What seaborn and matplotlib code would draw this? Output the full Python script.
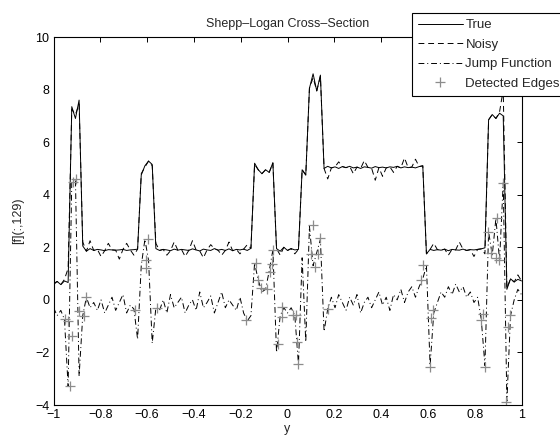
import numpy as np
import pandas as pd
import matplotlib
matplotlib.use("Agg")
import matplotlib.pyplot as plt
import seaborn as sns

# ---- data ----
x_grid = np.linspace(-1, 1, 129)

true_vals = [
    0.62, 0.70, 0.58, 0.72, 0.66, 7.35, 6.90, 7.60, 2.05, 1.85,
    1.95, 1.88, 1.92, 1.90, 1.87, 1.91, 1.90, 1.89, 1.90, 1.92,
    1.88, 1.90, 1.91, 1.93, 4.75, 5.10, 5.28, 5.15, 1.95, 1.88,
    1.92, 1.90, 1.87, 1.93, 1.89, 1.92, 1.90, 1.88, 1.94, 1.90,
    1.86, 1.93, 1.90, 1.88, 1.95, 1.89, 1.92, 1.88, 1.94, 1.87,
    1.92, 1.90, 1.93, 1.88, 1.96, 5.20, 4.95, 4.80, 4.95, 4.85,
    5.22, 1.95, 1.85, 2.00, 1.88, 1.95, 1.90, 1.92, 4.95, 4.75,
    8.05, 8.60, 7.95, 8.55, 5.00, 5.08, 5.02, 5.06, 5.00, 5.07,
    5.03, 5.08, 5.02, 5.05, 5.00, 5.06, 5.04, 5.01, 5.07, 5.03,
    5.05, 5.02, 5.06, 5.04, 5.08, 5.02, 5.06, 5.03, 5.05, 5.02,
    5.07, 5.10, 1.75, 1.92, 1.88, 1.91, 1.89, 1.93, 1.87, 1.92,
    1.90, 1.89, 1.93, 1.88, 1.91, 1.90, 1.92, 1.94, 1.98, 6.85,
    7.05, 6.90, 7.10, 7.00, 0.40, 0.80, 0.68, 0.78, 0.72,
]

noisy_vals = [
    0.58, 0.70, 0.58, 0.78, 1.20, 7.25, 7.05, 7.45, 2.20, 1.85,
    2.25, 1.88, 1.92, 1.65, 1.87, 2.15, 1.90, 1.89, 1.55, 1.92,
    2.15, 1.90, 1.70, 1.93, 4.80, 5.05, 5.28, 5.10, 2.15, 1.88,
    1.92, 1.70, 1.87, 2.20, 1.89, 1.92, 1.65, 1.88, 2.25, 1.90,
    1.86, 1.60, 1.90, 2.10, 1.95, 1.89, 1.70, 1.88, 2.20, 1.87,
    1.92, 1.75, 1.93, 2.10, 1.96, 5.15, 4.95, 4.80, 4.95, 4.85,
    5.20, 1.95, 1.70, 2.00, 1.88, 1.95, 1.75, 1.92, 4.95, 4.75,
    8.05, 8.45, 7.95, 8.50, 5.00, 4.60, 5.02, 5.06, 5.25, 5.07,
    5.03, 5.08, 4.80, 5.05, 5.00, 5.30, 5.04, 5.01, 4.55, 5.03,
    4.70, 5.02, 5.06, 4.85, 5.08, 5.02, 5.40, 5.03, 5.05, 5.35,
    5.07, 5.10, 1.75, 1.92, 2.15, 1.91, 1.89, 1.93, 1.70, 1.92,
    1.90, 2.20, 1.93, 1.88, 1.91, 1.65, 1.92, 1.94, 1.75, 6.85,
    7.05, 6.90, 7.15, 8.00, 0.45, 0.80, 0.68, 0.95, 0.72,
]

jump_vals = [
    -0.30, -0.60, -0.40, -0.75, -3.30, 4.50, 4.60, -2.90, -0.60, 0.10,
    -0.30, -0.10, -0.40, 0.00, -0.50, -0.20, 0.10, -0.40, -0.10, 0.20,
    -0.50, -0.20, -0.35, -1.50, 1.30, 2.30, 1.50, -1.65, -0.30, -0.40,
    0.00, -0.50, 0.20, -0.30, -0.10, 0.10, -0.50, -0.20, 0.00, -0.40,
    0.30, -0.30, -0.10, 0.15, -0.50, -0.10, 0.30, -0.30, 0.00, -0.20,
    -0.40, 0.10, -0.50, -0.80, -0.60, 1.40, 0.75, 0.30, 0.40, 1.10,
    1.90, -2.00, -0.60, -0.30, -0.50, -0.30, -0.60, -2.45, 1.60, -1.60,
    2.80, 1.30, 1.80, 2.30, -1.20, -0.35, 0.10, -0.30, 0.20, -0.10,
    -0.40, 0.10, -0.20, 0.20, -0.50, -0.10, 0.10, -0.30, 0.00, 0.30,
    -0.20, 0.10, -0.40, 0.20, 0.00, 0.40, -0.10, 0.30, 0.50, 0.10,
    0.50, 0.80, 1.30, -2.50, -0.50, -0.10, 0.30, 0.10, 0.50, 0.20,
    0.60, 0.30, 0.50, 0.10, 0.30, -0.10, 0.10, -0.75, -2.50, 2.60,
    1.70, 3.10, 1.50, 4.45, -3.85, -0.60, 0.00, 0.40, 0.20,
]

edge_x = [
    -0.952, -0.940, -0.930, -0.923, -0.915, -0.902, -0.892, -0.870, -0.863,
    -0.653, -0.605, -0.605, -0.595, -0.556,
    -0.177, -0.134, -0.124, -0.115, -0.087, -0.073, -0.068, -0.063, -0.041,
    -0.024, -0.024, 0.023, 0.037, 0.040, 0.044, 0.101, 0.108, 0.118, 0.130,
    0.141, 0.172,
    0.571, 0.578, 0.607, 0.614, 0.621,
    0.828, 0.835, 0.842, 0.855, 0.869, 0.890, 0.897, 0.905, 0.919, 0.932,
    0.941, 0.949,
]
edge_y = [
    -0.74, -0.80, -3.28, -1.38, 4.48, 4.60, -0.43, -0.62, 0.12,
    -0.39, 1.51, 1.23, 2.30, -0.32,
    -0.77, 1.39, 0.75, 0.47, 0.40, 1.07, 1.35, 1.89, -1.68,
    -0.26, -0.67, -0.58, -0.58, -1.59, -2.44, 1.76, 2.84, 1.26, 1.76,
    2.34, -0.36,
    0.75, 1.32, -2.54, -0.69, -0.39,
    -0.77, -0.52, -2.54, 2.59, 1.77, 1.58, 3.10, 1.51, 4.45, -3.87,
    -1.02, -0.58,
]

x_ticks = [-1, -0.8, -0.6, -0.4, -0.2, 0, 0.2, 0.4, 0.6, 0.8, 1]
x_tick_labels = ["\u22121", "\u22120.8", "\u22120.6", "\u22120.4", "\u22120.2",
                 "0", "0.2", "0.4", "0.6", "0.8", "1"]
y_ticks = [-4, -2, 0, 2, 4, 6, 8, 10]
y_tick_labels = ["\u22124", "\u22122", "0", "2", "4", "6", "8", "10"]

# ---- style ----
sns.set_style("white")
plt.rcParams["font.family"] = ["Liberation Sans", "DejaVu Sans"]
plt.rcParams["font.size"] = 9

df = pd.DataFrame({"y": x_grid, "True": true_vals, "Noisy": noisy_vals,
                   "Jump": jump_vals})
edges = pd.DataFrame({"y": edge_x, "v": edge_y})

fig = plt.figure(figsize=(5.6, 4.43), dpi=100)
ax = fig.add_axes([53.5 / 560, 38 / 443, 468 / 560, 368 / 443])

lw = 0.7
sns.lineplot(data=df, x="y", y="True", ax=ax, color="black", lw=lw,
             estimator=None, sort=False, label="True")
sns.lineplot(data=df, x="y", y="Noisy", ax=ax, color="black", lw=lw,
             estimator=None, sort=False, label="Noisy", linestyle=(0, (6, 4)))
sns.lineplot(data=df, x="y", y="Jump", ax=ax, color="black", lw=lw,
             estimator=None, sort=False, label="Jump Function",
             linestyle=(0, (6, 3, 1, 3)))
ax.plot(edges["y"], edges["v"], linestyle="none", marker="+",
        color="#8c8c8c", markersize=7, markeredgewidth=0.9,
        label="Detected Edges")

ax.set_xlim(-1, 1)
ax.set_ylim(-4, 10)
ax.set_xticks(x_ticks)
ax.set_xticklabels(x_tick_labels)
ax.set_yticks(y_ticks)
ax.set_yticklabels(y_tick_labels)
ax.tick_params(direction="in", length=3.5, width=0.7, top=True, right=True,
               labelsize=9, pad=3, colors="black")
for s in ax.spines.values():
    s.set_visible(True)
    s.set_color("black")
    s.set_linewidth(0.8)

ax.set_xlabel("y", fontsize=9, labelpad=1)
ax.set_ylabel("[f](:,129)", fontsize=9, labelpad=8)
ax.set_title("Shepp\u2013Logan Cross\u2013Section", fontsize=9, pad=7)

leg = ax.legend(loc="upper left", bbox_to_anchor=(412 / 560, 1 - 13 / 443),
                bbox_transform=fig.transFigure, frameon=True, fancybox=False,
                shadow=False, framealpha=1, edgecolor="black",
                fontsize=9.5, handlelength=3.4, handletextpad=0.2,
                labelspacing=0.55, borderpad=0.45, borderaxespad=0)
leg.get_frame().set_linewidth(0.8)

fig.savefig("out.png", dpi=100)
